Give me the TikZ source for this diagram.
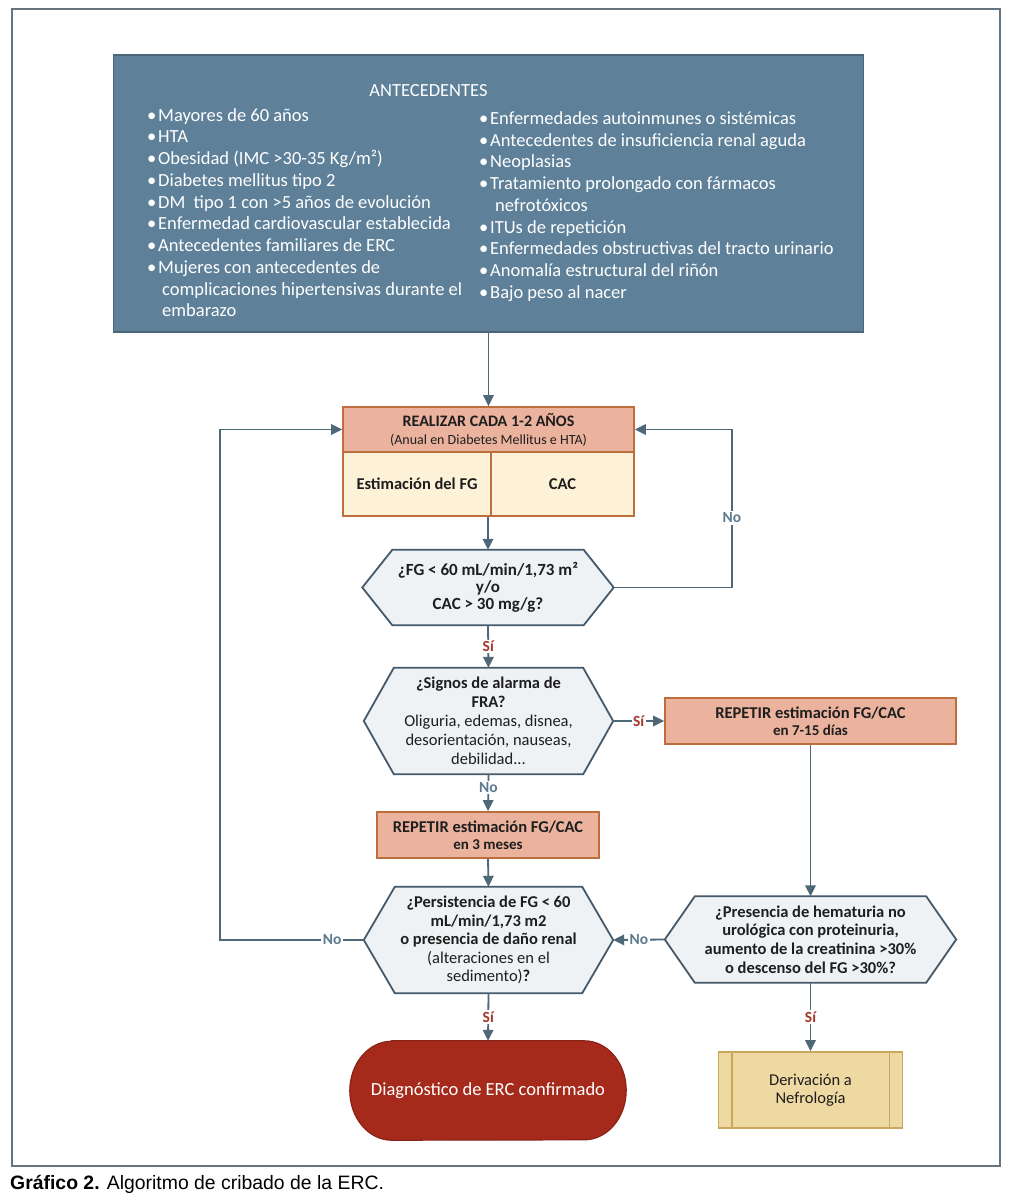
\documentclass[tikz,border=0pt]{standalone}
\usepackage{fontspec}
\setmainfont{Carlito}
\newfontfamily\capfont{Liberation Sans}
\usetikzlibrary{arrows.meta,backgrounds,calc}
\definecolor{topf}{HTML}{5E8199}
\definecolor{topb}{HTML}{4A6678}
\definecolor{salf}{HTML}{EBB39E}
\definecolor{salb}{HTML}{BE6E3C}
\definecolor{creamf}{HTML}{FDF1D8}
\definecolor{hexf}{HTML}{EFF2F5}
\definecolor{hexb}{HTML}{44596A}
\definecolor{linec}{HTML}{4F6878}
\definecolor{termf}{HTML}{A52A1C}
\definecolor{termb}{HTML}{8A2317}
\definecolor{derf}{HTML}{EFD9A3}
\definecolor{derb}{HTML}{C9A85E}
\definecolor{framec}{HTML}{66757F}
\definecolor{sic}{HTML}{A3362A}
\definecolor{noc}{HTML}{5B7A8E}
\definecolor{txt}{HTML}{1E1E1E}
\newcommand{\bul}{\makebox[11pt][l]{•}}
\newcommand{\contL}{\hspace*{15pt}}
\newcommand{\contR}{\hspace*{16pt}}
\newcommand{\hexbg}[2]{\begin{scope}[on background layer]\draw[hexsty] (#1.west) -- ([xshift=#2pt]#1.north west) -- ([xshift=-#2pt]#1.north east) -- (#1.east) -- ([xshift=-#2pt]#1.south east) -- ([xshift=#2pt]#1.south west) -- cycle;\end{scope}}
\begin{document}
\begin{tikzpicture}[x=1pt,y=-1pt,
  conn/.style={draw=linec, line width=1.8pt},
  arr/.style={conn, -{Triangle[length=11pt,width=10.5pt]}},
  lblsi/.style={fill=white, inner sep=1.5pt, text=sic, font=\fontsize{15.5}{17}\selectfont\bfseries},
  lblno/.style={fill=white, inner sep=1.5pt, text=noc, font=\fontsize{15.5}{17}\selectfont\bfseries},
  hexsty/.style={draw=hexb, fill=hexf, line width=1.8pt, line join=miter},
  hexbox/.style={align=center, inner sep=0pt, text=txt},
  salbox/.style={draw=salb, fill=salf, line width=1.8pt, align=center, inner sep=0pt, text=txt},
  creambox/.style={draw=salb, fill=creamf, line width=1.8pt, align=center, inner sep=0pt, text=txt},
  coltext/.style={anchor=north west, align=left, inner sep=0pt, text=white, font=\fontsize{18.5}{21.75}\selectfont}
]
\useasboundingbox (0,0) rectangle (1009,1200);
\begin{scope}[on background layer]
\fill[white] (0,0) rectangle (1009,1200);
\end{scope}
% frame
\draw[framec, line width=1.6pt] (12,9) rectangle (1000,1166);
% antecedentes box
\node[draw=topb, fill=topf, line width=1.2pt, minimum width=750pt, minimum height=277pt, inner sep=0pt] (ante) at (488.5,193.5) {};
\node[inner sep=0pt, text=white, font=\fontsize{18.5}{21}\selectfont] (antet) at (428.5,90.5) {ANTECEDENTES};
\node[coltext] (colL) at (147,105.7) {\strut\bul Mayores de 60 años\\
\bul HTA\\
\bul Obesidad (IMC >30-35 Kg/m²)\\
\bul Diabetes mellitus tipo 2\\
\bul DM\ \ tipo 1 con >5 años de evolución\\
\bul Enfermedad cardiovascular establecida\\
\bul Antecedentes familiares de ERC\\
\bul Mujeres con antecedentes de\\
\contL complicaciones hipertensivas durante el\\
\contL embarazo};
\node[coltext] (colR) at (479,109) {\strut\bul Enfermedades autoinmunes o sistémicas\\
\bul Antecedentes de insuficiencia renal aguda\\
\bul Neoplasias\\
\bul Tratamiento prolongado con fármacos\\
\contR nefrotóxicos\\
\bul ITUs de repetición\\
\bul Enfermedades obstructivas del tracto urinario\\
\bul Anomalía estructural del riñón\\
\bul Bajo peso al nacer};
% realizar box
\node[salbox, minimum width=291pt, minimum height=45pt, font=\fontsize{14.5}{18}\selectfont] (rhead) at (488.5,429.5) {{\fontsize{16}{18}\selectfont\bfseries REALIZAR CADA 1-2 AÑOS}\\{\fontsize{14}{18}\selectfont (Anual en Diabetes Mellitus e HTA)}};
\node[creambox, minimum width=148pt, minimum height=64pt] (rleft) at (417,484) {\fontsize{16.5}{18}\selectfont\bfseries Estimación del FG};
\node[creambox, minimum width=143pt, minimum height=64pt] (rright) at (562.5,484) {\fontsize{16.5}{18}\selectfont\bfseries CAC};
% hexagon 1
\node[hexbox, minimum width=251pt, minimum height=75pt, font=\fontsize{17}{17}\selectfont\bfseries] (h1) at (488,587.5) {¿FG < 60 mL/min/1,73 m²\\y/o\\CAC > 30 mg/g?};
\hexbg{h1}{30}
% hexagon 2
\node[hexbox, minimum width=249pt, minimum height=106pt, font=\fontsize{16.5}{19}\selectfont] (h2) at (488.5,721) {\textbf{¿Signos de alarma de}\\\textbf{FRA?}\\Oliguria, edemas, disnea,\\desorientación, nauseas,\\debilidad...};
\hexbg{h2}{30}
% repetir boxes
\node[salbox, minimum width=291pt, minimum height=46pt, font=\fontsize{15}{17.5}\selectfont\bfseries] (r7) at (810.5,721) {{\fontsize{16.5}{17.5}\selectfont REPETIR estimación FG/CAC}\\{\fontsize{15}{17.5}\selectfont en 7-15 días}};
\node[salbox, minimum width=222pt, minimum height=46pt, font=\fontsize{15}{17.5}\selectfont\bfseries] (r3) at (488,835) {{\fontsize{16.5}{17.5}\selectfont REPETIR estimación FG/CAC}\\{\fontsize{15}{17.5}\selectfont en 3 meses}};
% hexagon 4
\node[hexbox, minimum width=249pt, minimum height=106pt, font=\fontsize{16.5}{18.6}\selectfont] (h4) at (488.5,940) {\textbf{¿Persistencia de FG < 60}\\\textbf{mL/min/1,73 m2}\\\textbf{o presencia de daño renal}\\(alteraciones en el\\sedimento)\textbf{?}};
\hexbg{h4}{31}
% hexagon 3
\node[hexbox, minimum width=291pt, minimum height=86pt, font=\fontsize{16.5}{18.7}\selectfont\bfseries] (h3) at (810.5,939.5) {¿Presencia de hematuria no\\urológica con proteinuria,\\aumento de la creatinina >30\%\\o descenso del FG >30\%?};
\hexbg{h3}{30}
% terminal
\node[inner sep=0pt, minimum width=276pt, minimum height=99pt, text=white, font=\fontsize{18.5}{20}\selectfont] (term) at (488,1090.5) {Diagnóstico de ERC confirmado};
\begin{scope}[on background layer]
\draw[draw=termb, fill=termf, line width=1.2pt] ([xshift=42pt]term.north west) -- ([xshift=-42pt]term.north east) arc[start angle=90, end angle=-90, x radius=42pt, y radius=49.5pt] -- ([xshift=42pt]term.south west) arc[start angle=270, end angle=90, x radius=42pt, y radius=49.5pt] -- cycle;
\end{scope}
% derivacion
\node[draw=derb, fill=derf, line width=1.8pt, minimum width=184pt, minimum height=76pt, inner sep=0pt, align=center, text=txt, font=\fontsize{16.5}{17.5}\selectfont] (der) at (810.5,1090) {Derivación a\\Nefrología};
\draw[derb, line width=1.8pt] ([xshift=14pt]der.north west) -- ([xshift=14pt]der.south west);
\draw[derb, line width=1.8pt] ([xshift=-14pt]der.north east) -- ([xshift=-14pt]der.south east);
% connectors
\coordinate (cR1) at (732,587.5);
\coordinate (cR2) at (732,429.5);
\coordinate (cL) at (220,940);
\draw[arr] (ante.south) -- (rhead.north);
\draw[arr] (h1.north |- rleft.south) -- (h1.north);
\draw[arr] (h1.east) -- (cR1) -- node[lblno, pos=0.44]{No} (cR2) -- (rhead.east);
\draw[arr] (h1.south) -- node[lblsi]{Sí} (h2.north);
\draw[arr] (h2.east) -- node[lblsi]{Sí} (r7.west);
\draw[arr] (h2.south) -- node[lblno, pos=0.35]{No} (r3.north);
\draw[arr] (r3.south) -- (h4.north);
\draw[arr] (r7.south) -- (h3.north);
\draw[arr] (h3.west) -- node[lblno]{No} (h4.east);
\draw[arr] (h4.west) -- node[lblno, pos=0.22]{No} (cL) |- (rhead.west);
\draw[arr] (h4.south) -- node[lblsi]{Sí} (term.north);
\draw[arr] (h3.south) -- node[lblsi]{Sí} (der.north);
% caption
\node[anchor=base west, inner sep=0pt, text=black, font=\capfont\fontsize{19.4}{22}\selectfont] (cap) at (10,1189) {\textbf{Gráfico 2.} Algoritmo de cribado de la ERC.};
\end{tikzpicture}
\end{document}
